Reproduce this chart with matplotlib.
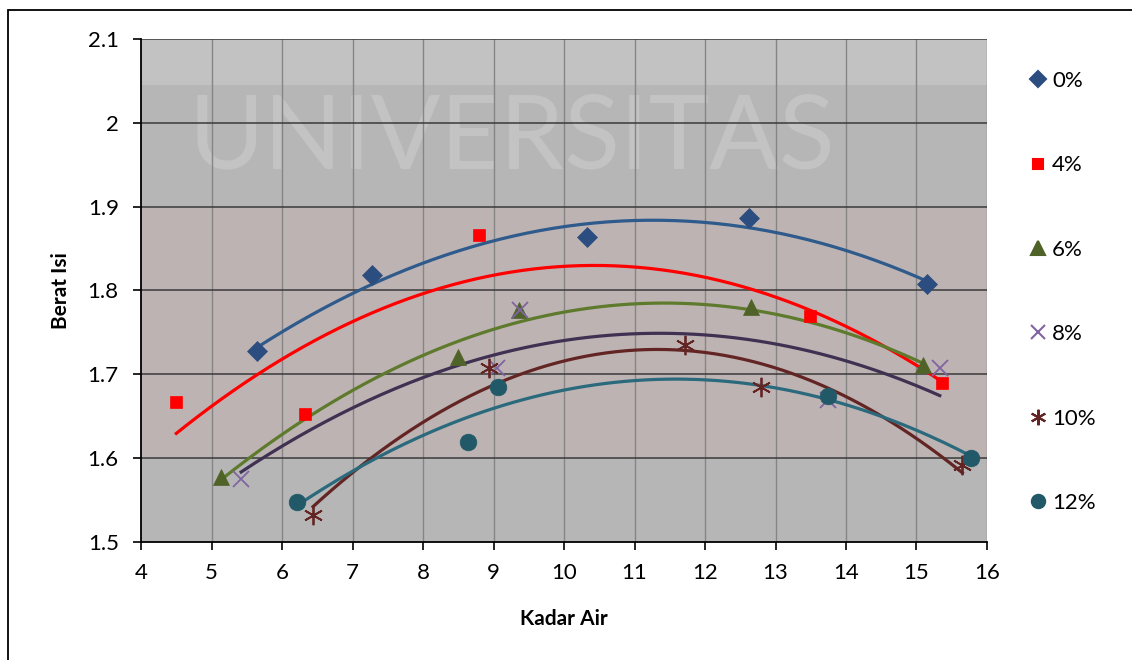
import numpy as np
import matplotlib.pyplot as plt
from matplotlib.patches import Rectangle

plt.rcParams['font.family'] = ['Lato', 'DejaVu Sans']

# data (Kadar Air vs Berat Isi)
labels = ['0%', '4%', '6%', '8%', '10%', '12%']

x_0 = [5.65, 7.27, 10.32, 12.62, 15.15]
y_0 = [1.728, 1.818, 1.864, 1.887, 1.808]

x_4 = [4.50, 6.33, 8.79, 13.49, 15.36]
y_4 = [1.667, 1.653, 1.866, 1.770, 1.690]

x_6 = [5.13, 8.50, 9.36, 12.65, 15.09]
y_6 = [1.577, 1.721, 1.777, 1.780, 1.711]

x_8 = [5.42, 9.05, 9.38, 13.74, 15.33]
y_8 = [1.575, 1.707, 1.777, 1.669, 1.707]

x_10 = [6.44, 8.94, 11.72, 12.79, 15.65]
y_10 = [1.532, 1.707, 1.735, 1.685, 1.592]

x_12 = [6.21, 8.64, 9.06, 13.74, 15.77]
y_12 = [1.548, 1.619, 1.685, 1.674, 1.600]

series = [(x_0, y_0), (x_4, y_4), (x_6, y_6), (x_8, y_8), (x_10, y_10), (x_12, y_12)]

# style per series: marker, marker color, trendline color, marker size
styles = [
    ('D', '#2C4D7F', '#2E5B8C', 10),
    ('s', '#FF0000', '#FF0000', 9),
    ('^', '#4F6228', '#5E7A2D', 12),
    ('x', '#8064A2', '#403152', 12),
    ((6, 2, 0), '#632523', '#632523', 14),
    ('o', '#215968', '#2A6A7C', 12),
]

fig = plt.figure(figsize=(11.32, 6.6), dpi=100)
ax = fig.add_axes([0.1246, 0.1788, 0.7473, 0.7621])
ax.set_facecolor('#B6B6B6')

# rough imitation of the faded watermark behind the plot area
ax.axhspan(2.045, 2.1, color='#C2C2C2', lw=0, zorder=0.1)
ax.axhspan(1.6, 1.9, color='#BEB3B3', lw=0, zorder=0.1)
ax.text(9.26, 1.98, 'UNIVERSITAS', ha='center', va='center', fontsize=74,
        color='#C3C3C3', zorder=0.5)

for (xs, ys), lab, (mk, mc, lc, ms) in zip(series, labels, styles):
    xs = np.array(xs)
    ys = np.array(ys)
    # 2nd order polynomial trendline, like the Excel one
    coef = np.polyfit(xs, ys, 2)
    xx = np.linspace(xs.min(), xs.max(), 200)
    ax.plot(xx, np.polyval(coef, xx), color=lc, lw=2.3, zorder=3)
    thin = mk == 'x' or isinstance(mk, tuple)
    ax.plot(xs, ys, linestyle='none', marker=mk, color=mc, markersize=ms,
            markeredgewidth=1.3 if thin else 0.5, markeredgecolor=mc, zorder=4)

ax.set_xlim(4, 16)
ax.set_ylim(1.5, 2.1)
ax.set_xticks(np.arange(4, 17, 1))
ax.set_yticks([1.5, 1.6, 1.7, 1.8, 1.9, 2.0, 2.1])
ax.set_yticklabels(['1.5', '1.6', '1.7', '1.8', '1.9', '2', '2.1'])
ax.tick_params(labelsize=16, direction='out', length=6, width=1.2, color='black')
ax.tick_params(axis='x', pad=9)
ax.tick_params(axis='y', pad=10)

for v in np.arange(5, 17, 1):
    ax.axvline(v, color='#858585', lw=1, zorder=1)
for v in [1.6, 1.7, 1.8, 1.9, 2.0, 2.1]:
    ax.axhline(v, color='#3A3A3A', lw=1.1, zorder=1)

for s in ['top', 'right']:
    ax.spines[s].set_visible(False)
ax.spines['left'].set_linewidth(1.3)
ax.spines['bottom'].set_linewidth(1.3)

ax.set_xlabel('Kadar Air', fontsize=15, fontweight='bold', labelpad=19)
ax.set_ylabel('Berat Isi', fontsize=15, fontweight='bold', labelpad=12)

leg_handles = []
for lab, (mk, mc, lc, ms) in zip(labels, styles):
    h, = ax.plot([], [], linestyle='none', marker=mk, color=mc,
                 markersize=ms * 0.8, markeredgewidth=1.5, markeredgecolor=mc)
    leg_handles.append(h)
fig.legend(leg_handles, labels, loc='upper left', bbox_to_anchor=(0.896, 0.9095),
           frameon=False, fontsize=16, labelspacing=2.9, handletextpad=0.1,
           handlelength=1.1, borderpad=0)

# outer chart border
fig.patches.append(Rectangle((0.007, -0.05), 1.1, 1.035, transform=fig.transFigure,
                             fill=False, edgecolor='black', lw=1.3))

fig.savefig('out.png', dpi=100)
